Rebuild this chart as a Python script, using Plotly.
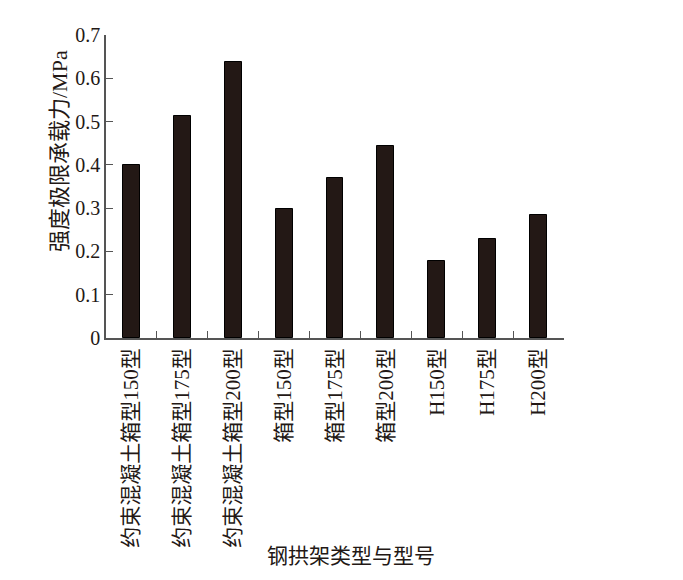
import plotly.graph_objects as go

categories = ["约束混凝土箱型150型", "约束混凝土箱型175型", "约束混凝土箱型200型",
              "箱型150型", "箱型175型", "箱型200型",
              "H150型", "H175型", "H200型"]
values = [0.400, 0.512, 0.638, 0.297, 0.369, 0.444, 0.179, 0.229, 0.284]
y_ticks = [0, 0.1, 0.2, 0.3, 0.4, 0.5, 0.6, 0.7]
y_tick_labels = ["0", "0.1", "0.2", "0.3", "0.4", "0.5", "0.6", "0.7"]
x_title = "钢拱架类型与型号"
y_title = "强度极限承载力/MPa"

FONT = "Liberation Serif, Times New Roman, Noto Sans CJK SC, serif"

OFF = 8  # page body margin
fig = go.Figure()
fig.add_trace(go.Bar(
    x=categories, y=values, width=0.33,
    marker=dict(color="#231815", line=dict(color="#000000", width=1)),
))

W, H = 683, 580
L, R, T, B = 106 - OFF, 564 - OFF, 35 - OFF, 338 - OFF
fig.update_layout(
    width=W, height=H,
    margin=dict(l=L, r=W - R, t=T, b=H - B),
    paper_bgcolor="white", plot_bgcolor="white",
    showlegend=False,
    font=dict(family=FONT, size=20, color="#231815"),
    bargap=0,
)
fig.update_xaxes(
    type="category", range=[-0.5, len(categories) - 0.5],
    showline=True, linecolor="#555555", linewidth=1.5,
    ticks="inside", tickson="boundaries", ticklen=7, tickcolor="#555555", tickwidth=1.2,
    tickangle=-90, tickfont=dict(family=FONT, size=21, color="#231815"),
    showgrid=False, zeroline=False, automargin=False,
)
fig.update_yaxes(
    range=[0, 0.7], tickvals=y_ticks, ticktext=y_tick_labels,
    showline=True, linecolor="#555555", linewidth=1.5,
    ticks="inside", ticklen=7, tickcolor="#555555", tickwidth=1.2,
    tickfont=dict(family=FONT, size=20, color="#231815"),
    showgrid=False, zeroline=False, automargin=False,
)
pw, ph = R - L, B - T
fig.add_annotation(
    text=y_title, textangle=-90, showarrow=False,
    xref="paper", yref="paper",
    x=(59 - OFF - L) / pw, y=(B - (151 - OFF)) / ph, xanchor="center", yanchor="middle",
    font=dict(family=FONT, size=22, color="#231815"),
)
fig.add_annotation(
    text=x_title, showarrow=False,
    xref="paper", yref="paper",
    x=(351 - OFF - L) / pw, y=(B - (556 - OFF)) / ph, xanchor="center", yanchor="middle",
    font=dict(family=FONT, size=21, color="#231815"),
)
fig.write_html("out.html")
